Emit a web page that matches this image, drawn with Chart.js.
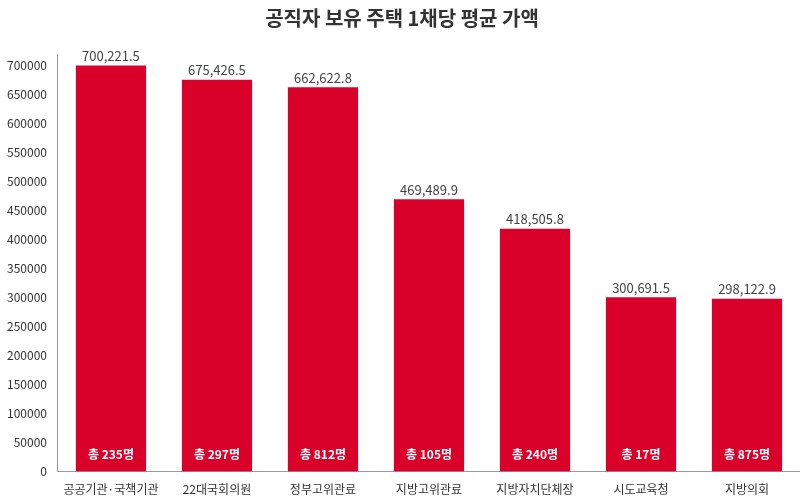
<!DOCTYPE html>
<html><head><meta charset="utf-8">
<script src="https://cdn.jsdelivr.net/npm/chart.js@4"></script>
<style>body{margin:0;background:#fff}#w{width:800px;height:500px}</style>
</head><body><div id="w"><canvas id="c"></canvas></div>
<script>
const categories=["공공기관·국책기관","22대국회의원","정부고위관료","지방고위관료","지방자치단체장","시도교육청","지방의회"];
const values=[700221.5,675426.5,662622.8,469489.9,418505.8,300691.5,298122.9];
const counts=["총 235명","총 297명","총 812명","총 105명","총 240명","총 17명","총 875명"];
const F="'Noto Sans CJK KR','Noto Sans',sans-serif";
const labels={id:'lbl',afterDatasetsDraw(ch){const c=ch.ctx;const m=ch.getDatasetMeta(0);const yb=ch.scales.y.getPixelForValue(0);
m.data.forEach((b,i)=>{c.save();c.textAlign='center';c.fillStyle='#444';c.font='13px '+F;c.textBaseline='bottom';
c.fillText(values[i].toLocaleString('en-US',{minimumFractionDigits:1}),b.x,b.y-3);
c.fillStyle='#fff';c.font='bold 12px '+F;c.textBaseline='middle';c.fillText(counts[i],b.x,yb-17);c.restore();});}};
new Chart(document.getElementById('c'),{type:'bar',data:{labels:categories,datasets:[{data:values,backgroundColor:'#d9002a',categoryPercentage:0.92,barPercentage:0.72}]},
options:{responsive:true,maintainAspectRatio:false,animation:false,layout:{padding:{left:4,right:0,top:4,bottom:0}},
plugins:{legend:{display:false},tooltip:{enabled:false},title:{display:true,text:'공직자 보유 주택 1채당 평균 가액',font:{family:F,size:20,weight:'bold'},color:'#333',padding:{top:2,bottom:24}}},
scales:{x:{grid:{display:false},border:{color:'#999'},ticks:{font:{family:F,size:12},color:'#333'}},
y:{min:0,max:720000,afterBuildTicks(a){a.ticks=[];for(let v=0;v<=700000;v+=50000)a.ticks.push({value:v});},grid:{display:false},border:{color:'#999'},ticks:{font:{family:F,size:12},color:'#333',callback:v=>String(v)}}}},plugins:[labels]});
</script></body></html>
